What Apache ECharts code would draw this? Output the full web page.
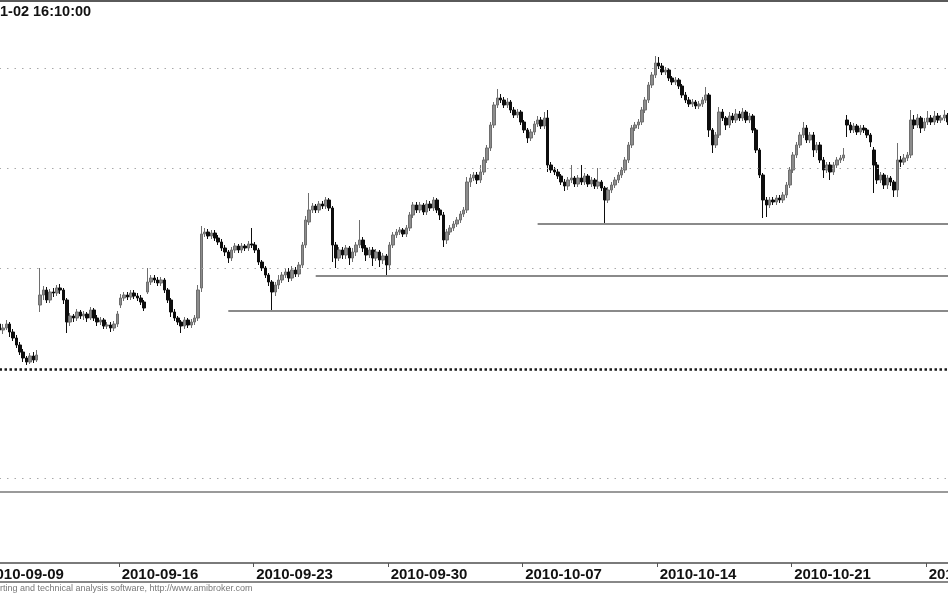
<!DOCTYPE html>
<html>
<head>
<meta charset="utf-8">
<script src="https://cdn.jsdelivr.net/npm/echarts@6/dist/echarts.min.js"></script>
<style>
html,body{margin:0;padding:0;background:#fff;}
#chart{width:948px;height:593px;}
</style>
</head>
<body>
<div id="chart"></div>
<script>
// ---- data ----
const days = ['2010-09-09','2010-09-10','2010-09-13','2010-09-14','2010-09-15','2010-09-16','2010-09-17',
  '2010-09-20','2010-09-21','2010-09-22','2010-09-23','2010-09-24','2010-09-27','2010-09-28','2010-09-29',
  '2010-09-30','2010-10-01','2010-10-04','2010-10-05','2010-10-06','2010-10-07','2010-10-08','2010-10-11',
  '2010-10-12','2010-10-13','2010-10-14','2010-10-15','2010-10-18','2010-10-19','2010-10-20','2010-10-21',
  '2010-10-22','2010-10-25','2010-10-26','2010-10-27','2010-10-28'];
const hours = ['09:00','10:00','11:00','12:00','13:00','14:00','15:00','16:00'];
const tickLabels = ['2010-09-09','2010-09-16','2010-09-23','2010-09-30','2010-10-07','2010-10-14','2010-10-21','2010-10-28'];

const opens = [
2574,2571.5,2573,2570,2572,2569,2570,2572,
2568,2565,2561.5,2558,2555,2553,2556,2554,
2581.5,2586.5,2589,2584,2588,2587.5,2590,2589,
2584,2573,2576,2575,2578,2576,2577,2575,
2579,2575,2573,2574,2571,2571.5,2570,2572,
2581.5,2585,2586.5,2585.5,2587.5,2586,2585,2583,
2588,2593,2595,2594,2592.5,2594,2589,2584,
2578,2575,2573,2571,2574,2571.5,2573,2575,
2590,2617,2618,2616,2617.5,2615,2613,2610,
2608,2605,2609,2611,2609,2611,2610,2612,
2611.5,2609,2603,2600,2596.5,2593,2588,2591.5,
2594,2596.5,2598,2595,2599,2597,2601.5,2611.5,
2623,2629,2631,2629,2632,2631,2634,2630,
2611.5,2605,2609,2606.5,2610,2605,2608,2611.5,
2614,2610,2606.5,2609,2605,2608,2604,2606,
2601.5,2611.5,2616.5,2618,2619,2617,2620,2626.5,
2631.5,2629,2631.5,2628,2632,2630,2634,2629,
2626.5,2614,2618,2620,2622,2624,2627,2629,
2643,2645,2646.5,2644,2648,2654,2660,2671.5,
2681.5,2685,2684,2681.5,2683,2679,2676.5,2678,
2673,2669,2665,2668,2672,2674,2671,2675,
2651.5,2649,2648,2646,2643,2641,2644,2645,
2642,2645,2643,2646,2642,2644,2641,2643,
2640,2634,2639,2641.5,2644,2646.5,2649,2654,
2661.5,2670,2671.5,2673,2679,2684,2691.5,2696.5,
2702.5,2701,2698,2699,2695,2693,2694,2691,
2686.5,2684,2682,2683,2681,2682,2684,2686.5,
2669,2661.5,2666.5,2678,2675,2671.5,2676,2674,
2677,2675,2678,2674,2676,2669,2659,2646.5,
2634,2631.5,2634,2633,2635,2634,2636.5,2641.5,
2649,2656.5,2661.5,2666.5,2670,2664,2666.5,2659,
2661.5,2654,2649,2651.5,2648,2651.5,2654,2655,
2674,2671.5,2669,2671,2668,2670,2669,2666.5,
2659,2651.5,2644,2646.5,2641.5,2645,2643,2639,
2654,2653,2655,2656.5,2674,2671.5,2675,2670,
2673,2675,2673,2676,2674,2675,2676.5,2673];

const closes = [
2571.5,2573,2570,2572,2569,2570,2572,2568,
2565,2561.5,2558,2555,2553,2556,2554,2556.5,
2586.5,2589,2584,2588,2587.5,2590,2589,2584,
2573,2576,2575,2578,2576,2577,2575,2579,
2575,2573,2574,2571,2571.5,2570,2572,2577,
2585,2586.5,2585.5,2587.5,2586,2585,2583,2580,
2593,2595,2594,2592.5,2594,2589,2584,2578,
2575,2573,2571,2574,2571.5,2573,2575,2589,
2617,2618,2616,2617.5,2615,2613,2610,2608,
2605,2609,2611,2609,2611,2610,2612,2611.5,
2609,2603,2600,2596.5,2593,2588,2591.5,2594,
2596.5,2598,2595,2599,2597,2601.5,2611.5,2624,
2629,2631,2629,2632,2631,2634,2630,2611.5,
2605,2609,2606.5,2610,2605,2608,2611.5,2614,
2610,2606.5,2609,2605,2608,2604,2606,2601.5,
2611.5,2616.5,2618,2619,2617,2620,2626.5,2631.5,
2629,2631.5,2628,2632,2630,2634,2629,2626.5,
2614,2618,2620,2622,2624,2627,2629,2643,
2645,2646.5,2644,2648,2654,2660,2671.5,2681.5,
2685,2684,2681.5,2683,2679,2676.5,2678,2673,
2669,2665,2668,2672,2674,2671,2675,2651.5,
2649,2648,2646,2643,2641,2644,2645,2642,
2645,2643,2646,2642,2644,2641,2643,2640,
2634,2639,2641.5,2644,2646.5,2649,2654,2661.5,
2670,2671.5,2673,2679,2684,2691.5,2696.5,2702.5,
2701,2698,2699,2695,2693,2694,2691,2686.5,
2684,2682,2683,2681,2682,2684,2686.5,2669,
2661.5,2666.5,2678,2675,2671.5,2676,2674,2677,
2675,2678,2674,2676,2669,2659,2646.5,2634,
2631.5,2634,2633,2635,2634,2636.5,2641.5,2649,
2656.5,2661.5,2666.5,2670,2664,2666.5,2659,2661.5,
2654,2649,2651.5,2648,2651.5,2654,2655,2656.5,
2671.5,2669,2671,2668,2670,2669,2666.5,2663,
2651.5,2644,2646.5,2641.5,2645,2643,2639,2654,
2653,2655,2656.5,2674,2671.5,2675,2670,2673,
2675,2673,2676,2674,2675,2676.5,2673,2670];

const highs = [
2575.5,2574.5,2574.5,2573.5,2575,2572,2574,2573,
2569.5,2566.5,2563,2559.5,2556,2557.5,2558,2559,
2600,2591,2590.5,2589.5,2590,2591.5,2592,2590,
2585,2577.5,2577,2579.5,2579,2578.5,2578,2580.5,
2580,2576.5,2575.5,2575,2573,2573,2573.5,2578.5,
2587,2588,2588,2589,2589,2587.5,2586.5,2584,
2600,2596.5,2596.5,2595.5,2595.5,2595,2590,2585,
2579.5,2576,2574,2575.5,2575,2574.5,2576.5,2591.5,
2621,2620,2619.5,2619,2619,2616.5,2614.5,2611.5,
2609,2610.5,2612.5,2612,2612.5,2612,2613.5,2620,
2613,2610,2604,2601,2597.5,2594,2593,2596.5,
2598,2599.5,2600,2601,2600.5,2603,2613,2626,
2637.5,2632.5,2632,2633.5,2633.5,2635.5,2635,2631,
2613,2610.5,2610.5,2611.5,2611,2610,2613,2624,
2615.5,2611.5,2610.5,2610.5,2609.5,2609,2607.5,2607,
2613,2618,2619.5,2620.5,2620,2621.5,2628,2633,
2633,2633,2632.5,2634,2633.5,2635.5,2635,2630,
2628,2619.5,2621.5,2623.5,2625.5,2628.5,2630.5,2645.5,
2647,2648,2648,2651.5,2655.5,2661.5,2673,2683,
2689.5,2687,2685.5,2685,2684,2680.5,2679.5,2679,
2674,2670,2669.5,2673.5,2676,2675.5,2678,2679,
2653,2650.5,2649.5,2647,2644.5,2645.5,2651.5,2646,
2646.5,2651.5,2647.5,2647,2645.5,2645,2650,2644,
2641,2640.5,2643,2645.5,2648,2650.5,2655.5,2663,
2671.5,2673,2674.5,2680.5,2685.5,2693,2698,2706,
2705.5,2702.5,2700.5,2700,2696,2695.5,2695,2692,
2688,2685.5,2684.5,2684,2683.5,2685.5,2690.5,2687.5,
2670,2668,2680.5,2679.5,2676,2678,2677.5,2679.5,
2678.5,2680,2679,2677.5,2677,2670,2660,2647.5,
2635.5,2635.5,2635.5,2636.5,2636.5,2638,2643,2650.5,
2658,2663,2668,2673,2671.5,2668,2668,2663,
2663,2655.5,2653,2653,2653,2655.5,2656.5,2660,
2676.5,2673,2672.5,2672,2671.5,2671.5,2670,2667.5,
2660.5,2653,2648,2647.5,2646.5,2646,2644,2662.5,
2656,2657,2658,2679,2676.5,2677,2676,2675,
2678.5,2676.5,2678.5,2677.5,2676.5,2679,2677.5,2674];

const lows = [
2570,2570,2568.5,2568.5,2567.5,2567,2569,2565.5,
2563.5,2560,2556.5,2553,2551.5,2552,2552.5,2553,
2578,2584,2582.5,2582.5,2585.5,2586,2587,2582,
2567.5,2571,2573,2573.5,2574.5,2574,2573,2574,
2573.5,2571,2571.5,2569.5,2569.5,2568,2568.5,2570.5,
2580,2583.5,2584,2584,2584.5,2583.5,2581.5,2578.5,
2587,2591.5,2592.5,2591,2591,2587.5,2582.5,2575.5,
2573.5,2571.5,2567.5,2569.5,2570,2570,2571.5,2573.5,
2588,2615.5,2614.5,2614.5,2613.5,2611.5,2608.5,2606,
2602.5,2603.5,2607.5,2607.5,2607.5,2608.5,2608.5,2610,
2607.5,2601.5,2598.5,2595,2591,2578.5,2586,2589.5,
2592.5,2595,2593,2593.5,2595.5,2595.5,2600,2610,
2621.5,2627.5,2627.5,2627.5,2629.5,2629.5,2628.5,2603,
2600,2603.5,2604.5,2604.5,2601.5,2603,2606,2610,
2608,2603.5,2605,2601,2603.5,2600.5,2602,2596,
2599,2610,2615,2616.5,2615.5,2615.5,2618.5,2625,
2627.5,2627.5,2626.5,2626.5,2628.5,2628.5,2627.5,2624,
2610.5,2612,2616.5,2618.5,2620.5,2622.5,2625.5,2627.5,
2640.5,2643.5,2642,2642.5,2646.5,2652.5,2658.5,2670,
2680,2682.5,2680,2680,2677.5,2675,2675,2671.5,
2667.5,2662.5,2663.5,2666.5,2670.5,2669.5,2669.5,2648,
2647.5,2646.5,2644.5,2641.5,2638.5,2639,2642.5,2640.5,
2640.5,2641.5,2641.5,2640.5,2640.5,2639.5,2639.5,2638.5,
2622,2632.5,2637.5,2640,2642.5,2645,2647.5,2652.5,
2660,2668.5,2669.5,2671.5,2677.5,2682.5,2690,2695,
2699.5,2696.5,2696.5,2693.5,2691.5,2691.5,2689.5,2685,
2682.5,2680.5,2680.5,2679.5,2679.5,2680.5,2682.5,2665.5,
2657.5,2660,2665,2673.5,2669,2670,2672.5,2672.5,
2673.5,2673.5,2672.5,2672.5,2667.5,2657.5,2645,2625,
2625.5,2630,2631.5,2631.5,2632.5,2632.5,2635,2640,
2647.5,2655,2660,2665,2662.5,2662.5,2655.5,2657.5,
2652.5,2645,2647.5,2644,2646.5,2650,2652.5,2653.5,
2665.5,2667.5,2667.5,2666.5,2666.5,2667.5,2665,2660.5,
2637.5,2642,2642.5,2639.5,2639.5,2641,2635.5,2635.5,
2650.5,2651.5,2653.5,2655,2669.5,2670,2667.5,2668.5,
2671.5,2671.5,2671.5,2672.5,2672.5,2673.5,2671.5,2665];

// horizontal support lines: price level and bar where each begins
const supportLevels = [2578.5, 2596, 2622];
const supportStarts = ['2010-09-22 09:00', '2010-09-27 11:00', '2010-10-07 13:00'];
const dottedLevel = 2549.5;      // heavy dotted line
const gridLevels = [2700, 2650, 2600, 2495];
const paneLevel = 2488;          // solid separator line

// ---- build ----
const categories = [];
days.forEach(d => hours.forEach(h => categories.push(d + ' ' + h)));
const ohlc = opens.map((o, i) => [o, closes[i], lows[i], highs[i]]);

const showTick = (idx, val) => val.endsWith('09:00') && tickLabels.includes(val.slice(0, 10));

const markData = [];
gridLevels.forEach(v => markData.push({
  yAxis: v, lineStyle: {color: '#a8a8a8', width: 1, type: [1.5, 6]}
}));
markData.push({yAxis: dottedLevel, lineStyle: {color: '#1a1a1a', width: 2.5, type: [2.5, 2.5]}});
markData.push({yAxis: paneLevel, lineStyle: {color: '#9a9a9a', width: 2, type: 'solid'}});
supportLevels.forEach((v, i) => markData.push([
  {coord: [supportStarts[i], v], lineStyle: {color: '#8a8a8a', width: 2, type: 'solid'}},
  {coord: [categories[categories.length - 1], v]}
]));

const chart = echarts.init(document.getElementById('chart'), null, {renderer: 'canvas'});
chart.setOption({
  animation: false,
  backgroundColor: '#ffffff',
  grid: {left: -15.5, right: -4.9, top: 18, bottom: 30, containLabel: false, outerBoundsMode: 'none'},
  xAxis: {
    type: 'category',
    data: categories,
    boundaryGap: true,
    axisLine: {show: true, lineStyle: {color: '#7a7a7a', width: 2}},
    axisTick: {show: true, interval: showTick, length: 4, lineStyle: {color: '#555', width: 1}},
    axisLabel: {
      show: true, interval: showTick,
      formatter: v => v.slice(0, 10),
      align: 'left', margin: 4, padding: [0, 0, 0, 1],
      color: '#111', fontFamily: 'Liberation Sans, Arial, sans-serif',
      fontWeight: 'bold', fontSize: 15
    },
    splitLine: {show: false}
  },
  yAxis: {
    type: 'value', min: 2452.5, max: 2725, scale: true,
    axisLine: {show: false}, axisTick: {show: false}, axisLabel: {show: false},
    splitLine: {show: false}
  },
  series: [{
    type: 'candlestick',
    data: ohlc,
    barWidth: 3,
    itemStyle: {
      color: '#8c8c8c', color0: '#0d0d0d',
      borderColor: '#6e6e6e', borderColor0: '#0d0d0d', borderWidth: 1
    },
    markLine: {
      silent: true, symbol: 'none', label: {show: false},
      animation: false,
      data: markData
    }
  }],
  graphic: [
    {type: 'rect', shape: {x: 0, y: 0, width: 948, height: 2}, style: {fill: '#5a5a5a'}},
    {type: 'text', x: 0, y: 4, style: {text: '1-02 16:10:00', fill: '#111',
      font: 'bold 14.5px "Liberation Sans", Arial, sans-serif'}},
    {type: 'rect', shape: {x: 0, y: 581, width: 948, height: 2}, style: {fill: '#888888'}},
    {type: 'text', x: 0, y: 584, style: {text: 'rting and technical analysis software, http://www.amibroker.com',
      fill: '#777', font: '9px "Liberation Sans", Arial, sans-serif'}}
  ]
});
</script>
</body>
</html>
